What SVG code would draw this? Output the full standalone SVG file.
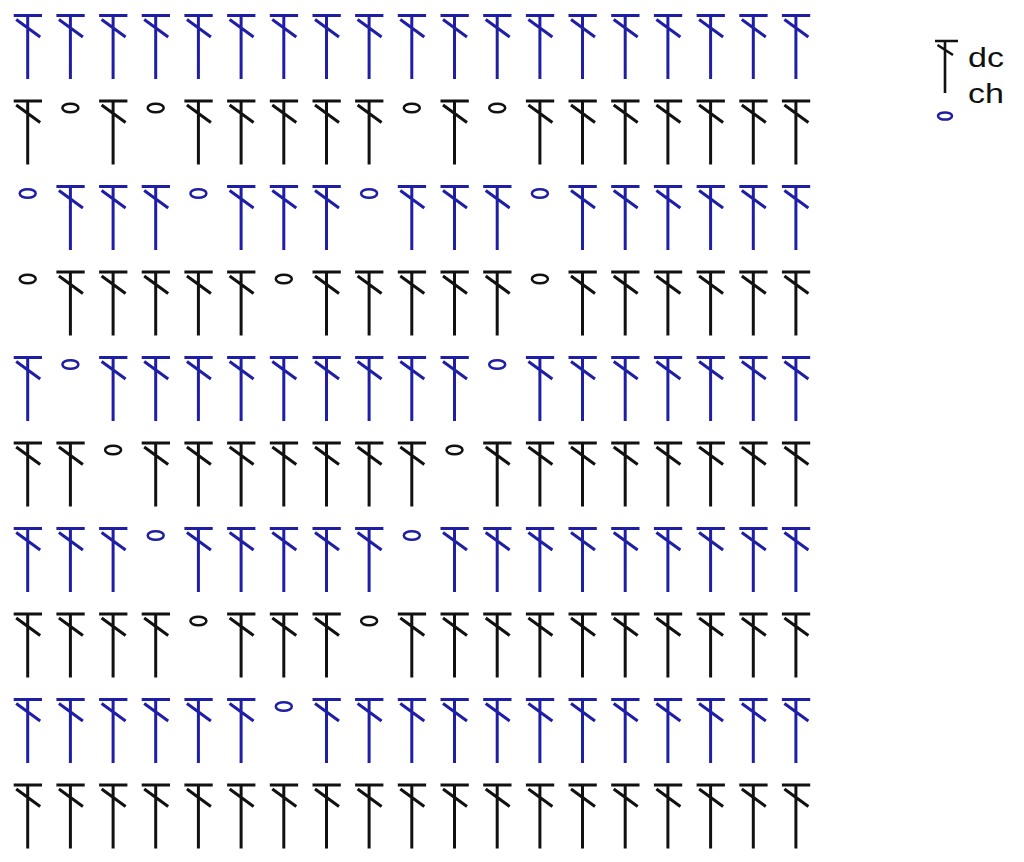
<svg xmlns="http://www.w3.org/2000/svg" xmlns:xlink="http://www.w3.org/1999/xlink" width="1024" height="862" viewBox="0 0 1024 862">
<style>
.b{stroke:#1f1fa6;color:#1f1fa6}
.k{stroke:#111111;color:#111111}
.lbl{font-family:"Liberation Sans",Arial,sans-serif;font-size:27px;fill:#111111;stroke:none}
</style>
<defs>
<g id="dc" fill="none" stroke-width="3">
<path d="M-14 0H14.3M0 0V63.5M-11.5 4L12.5 21.5"/>
</g>
<ellipse id="ch" cx="0" cy="7" rx="8" ry="4.3" fill="none" stroke-width="2.5"/>
</defs>
<rect width="1024" height="862" fill="#ffffff"/>
<g id="connectors"/>
<!-- Row 1 -->
<g id="r1c1" class="b" transform="translate(27.7,15.5)"><use href="#dc"/></g>
<g id="r1c2" class="b" transform="translate(70.4,15.5)"><use href="#dc"/></g>
<g id="r1c3" class="b" transform="translate(113.1,15.5)"><use href="#dc"/></g>
<g id="r1c4" class="b" transform="translate(155.7,15.5)"><use href="#dc"/></g>
<g id="r1c5" class="b" transform="translate(198.4,15.5)"><use href="#dc"/></g>
<g id="r1c6" class="b" transform="translate(241.1,15.5)"><use href="#dc"/></g>
<g id="r1c7" class="b" transform="translate(283.8,15.5)"><use href="#dc"/></g>
<g id="r1c8" class="b" transform="translate(326.5,15.5)"><use href="#dc"/></g>
<g id="r1c9" class="b" transform="translate(369.1,15.5)"><use href="#dc"/></g>
<g id="r1c10" class="b" transform="translate(411.8,15.5)"><use href="#dc"/></g>
<g id="r1c11" class="b" transform="translate(454.5,15.5)"><use href="#dc"/></g>
<g id="r1c12" class="b" transform="translate(497.2,15.5)"><use href="#dc"/></g>
<g id="r1c13" class="b" transform="translate(539.9,15.5)"><use href="#dc"/></g>
<g id="r1c14" class="b" transform="translate(582.5,15.5)"><use href="#dc"/></g>
<g id="r1c15" class="b" transform="translate(625.2,15.5)"><use href="#dc"/></g>
<g id="r1c16" class="b" transform="translate(667.9,15.5)"><use href="#dc"/></g>
<g id="r1c17" class="b" transform="translate(710.6,15.5)"><use href="#dc"/></g>
<g id="r1c18" class="b" transform="translate(753.3,15.5)"><use href="#dc"/></g>
<g id="r1c19" class="b" transform="translate(795.9,15.5)"><use href="#dc"/></g>
<!-- Row 2 -->
<g id="r2c1" class="k" transform="translate(27.7,101)"><use href="#dc"/></g>
<g id="r2c2" class="k" transform="translate(70.4,101)"><use href="#ch"/></g>
<g id="r2c3" class="k" transform="translate(113.1,101)"><use href="#dc"/></g>
<g id="r2c4" class="k" transform="translate(155.7,101)"><use href="#ch"/></g>
<g id="r2c5" class="k" transform="translate(198.4,101)"><use href="#dc"/></g>
<g id="r2c6" class="k" transform="translate(241.1,101)"><use href="#dc"/></g>
<g id="r2c7" class="k" transform="translate(283.8,101)"><use href="#dc"/></g>
<g id="r2c8" class="k" transform="translate(326.5,101)"><use href="#dc"/></g>
<g id="r2c9" class="k" transform="translate(369.1,101)"><use href="#dc"/></g>
<g id="r2c10" class="k" transform="translate(411.8,101)"><use href="#ch"/></g>
<g id="r2c11" class="k" transform="translate(454.5,101)"><use href="#dc"/></g>
<g id="r2c12" class="k" transform="translate(497.2,101)"><use href="#ch"/></g>
<g id="r2c13" class="k" transform="translate(539.9,101)"><use href="#dc"/></g>
<g id="r2c14" class="k" transform="translate(582.5,101)"><use href="#dc"/></g>
<g id="r2c15" class="k" transform="translate(625.2,101)"><use href="#dc"/></g>
<g id="r2c16" class="k" transform="translate(667.9,101)"><use href="#dc"/></g>
<g id="r2c17" class="k" transform="translate(710.6,101)"><use href="#dc"/></g>
<g id="r2c18" class="k" transform="translate(753.3,101)"><use href="#dc"/></g>
<g id="r2c19" class="k" transform="translate(795.9,101)"><use href="#dc"/></g>
<!-- Row 3 -->
<g id="r3c1" class="b" transform="translate(27.7,186.5)"><use href="#ch"/></g>
<g id="r3c2" class="b" transform="translate(70.4,186.5)"><use href="#dc"/></g>
<g id="r3c3" class="b" transform="translate(113.1,186.5)"><use href="#dc"/></g>
<g id="r3c4" class="b" transform="translate(155.7,186.5)"><use href="#dc"/></g>
<g id="r3c5" class="b" transform="translate(198.4,186.5)"><use href="#ch"/></g>
<g id="r3c6" class="b" transform="translate(241.1,186.5)"><use href="#dc"/></g>
<g id="r3c7" class="b" transform="translate(283.8,186.5)"><use href="#dc"/></g>
<g id="r3c8" class="b" transform="translate(326.5,186.5)"><use href="#dc"/></g>
<g id="r3c9" class="b" transform="translate(369.1,186.5)"><use href="#ch"/></g>
<g id="r3c10" class="b" transform="translate(411.8,186.5)"><use href="#dc"/></g>
<g id="r3c11" class="b" transform="translate(454.5,186.5)"><use href="#dc"/></g>
<g id="r3c12" class="b" transform="translate(497.2,186.5)"><use href="#dc"/></g>
<g id="r3c13" class="b" transform="translate(539.9,186.5)"><use href="#ch"/></g>
<g id="r3c14" class="b" transform="translate(582.5,186.5)"><use href="#dc"/></g>
<g id="r3c15" class="b" transform="translate(625.2,186.5)"><use href="#dc"/></g>
<g id="r3c16" class="b" transform="translate(667.9,186.5)"><use href="#dc"/></g>
<g id="r3c17" class="b" transform="translate(710.6,186.5)"><use href="#dc"/></g>
<g id="r3c18" class="b" transform="translate(753.3,186.5)"><use href="#dc"/></g>
<g id="r3c19" class="b" transform="translate(795.9,186.5)"><use href="#dc"/></g>
<!-- Row 4 -->
<g id="r4c1" class="k" transform="translate(27.7,272)"><use href="#ch"/></g>
<g id="r4c2" class="k" transform="translate(70.4,272)"><use href="#dc"/></g>
<g id="r4c3" class="k" transform="translate(113.1,272)"><use href="#dc"/></g>
<g id="r4c4" class="k" transform="translate(155.7,272)"><use href="#dc"/></g>
<g id="r4c5" class="k" transform="translate(198.4,272)"><use href="#dc"/></g>
<g id="r4c6" class="k" transform="translate(241.1,272)"><use href="#dc"/></g>
<g id="r4c7" class="k" transform="translate(283.8,272)"><use href="#ch"/></g>
<g id="r4c8" class="k" transform="translate(326.5,272)"><use href="#dc"/></g>
<g id="r4c9" class="k" transform="translate(369.1,272)"><use href="#dc"/></g>
<g id="r4c10" class="k" transform="translate(411.8,272)"><use href="#dc"/></g>
<g id="r4c11" class="k" transform="translate(454.5,272)"><use href="#dc"/></g>
<g id="r4c12" class="k" transform="translate(497.2,272)"><use href="#dc"/></g>
<g id="r4c13" class="k" transform="translate(539.9,272)"><use href="#ch"/></g>
<g id="r4c14" class="k" transform="translate(582.5,272)"><use href="#dc"/></g>
<g id="r4c15" class="k" transform="translate(625.2,272)"><use href="#dc"/></g>
<g id="r4c16" class="k" transform="translate(667.9,272)"><use href="#dc"/></g>
<g id="r4c17" class="k" transform="translate(710.6,272)"><use href="#dc"/></g>
<g id="r4c18" class="k" transform="translate(753.3,272)"><use href="#dc"/></g>
<g id="r4c19" class="k" transform="translate(795.9,272)"><use href="#dc"/></g>
<!-- Row 5 -->
<g id="r5c1" class="b" transform="translate(27.7,357.5)"><use href="#dc"/></g>
<g id="r5c2" class="b" transform="translate(70.4,357.5)"><use href="#ch"/></g>
<g id="r5c3" class="b" transform="translate(113.1,357.5)"><use href="#dc"/></g>
<g id="r5c4" class="b" transform="translate(155.7,357.5)"><use href="#dc"/></g>
<g id="r5c5" class="b" transform="translate(198.4,357.5)"><use href="#dc"/></g>
<g id="r5c6" class="b" transform="translate(241.1,357.5)"><use href="#dc"/></g>
<g id="r5c7" class="b" transform="translate(283.8,357.5)"><use href="#dc"/></g>
<g id="r5c8" class="b" transform="translate(326.5,357.5)"><use href="#dc"/></g>
<g id="r5c9" class="b" transform="translate(369.1,357.5)"><use href="#dc"/></g>
<g id="r5c10" class="b" transform="translate(411.8,357.5)"><use href="#dc"/></g>
<g id="r5c11" class="b" transform="translate(454.5,357.5)"><use href="#dc"/></g>
<g id="r5c12" class="b" transform="translate(497.2,357.5)"><use href="#ch"/></g>
<g id="r5c13" class="b" transform="translate(539.9,357.5)"><use href="#dc"/></g>
<g id="r5c14" class="b" transform="translate(582.5,357.5)"><use href="#dc"/></g>
<g id="r5c15" class="b" transform="translate(625.2,357.5)"><use href="#dc"/></g>
<g id="r5c16" class="b" transform="translate(667.9,357.5)"><use href="#dc"/></g>
<g id="r5c17" class="b" transform="translate(710.6,357.5)"><use href="#dc"/></g>
<g id="r5c18" class="b" transform="translate(753.3,357.5)"><use href="#dc"/></g>
<g id="r5c19" class="b" transform="translate(795.9,357.5)"><use href="#dc"/></g>
<!-- Row 6 -->
<g id="r6c1" class="k" transform="translate(27.7,443)"><use href="#dc"/></g>
<g id="r6c2" class="k" transform="translate(70.4,443)"><use href="#dc"/></g>
<g id="r6c3" class="k" transform="translate(113.1,443)"><use href="#ch"/></g>
<g id="r6c4" class="k" transform="translate(155.7,443)"><use href="#dc"/></g>
<g id="r6c5" class="k" transform="translate(198.4,443)"><use href="#dc"/></g>
<g id="r6c6" class="k" transform="translate(241.1,443)"><use href="#dc"/></g>
<g id="r6c7" class="k" transform="translate(283.8,443)"><use href="#dc"/></g>
<g id="r6c8" class="k" transform="translate(326.5,443)"><use href="#dc"/></g>
<g id="r6c9" class="k" transform="translate(369.1,443)"><use href="#dc"/></g>
<g id="r6c10" class="k" transform="translate(411.8,443)"><use href="#dc"/></g>
<g id="r6c11" class="k" transform="translate(454.5,443)"><use href="#ch"/></g>
<g id="r6c12" class="k" transform="translate(497.2,443)"><use href="#dc"/></g>
<g id="r6c13" class="k" transform="translate(539.9,443)"><use href="#dc"/></g>
<g id="r6c14" class="k" transform="translate(582.5,443)"><use href="#dc"/></g>
<g id="r6c15" class="k" transform="translate(625.2,443)"><use href="#dc"/></g>
<g id="r6c16" class="k" transform="translate(667.9,443)"><use href="#dc"/></g>
<g id="r6c17" class="k" transform="translate(710.6,443)"><use href="#dc"/></g>
<g id="r6c18" class="k" transform="translate(753.3,443)"><use href="#dc"/></g>
<g id="r6c19" class="k" transform="translate(795.9,443)"><use href="#dc"/></g>
<!-- Row 7 -->
<g id="r7c1" class="b" transform="translate(27.7,528.5)"><use href="#dc"/></g>
<g id="r7c2" class="b" transform="translate(70.4,528.5)"><use href="#dc"/></g>
<g id="r7c3" class="b" transform="translate(113.1,528.5)"><use href="#dc"/></g>
<g id="r7c4" class="b" transform="translate(155.7,528.5)"><use href="#ch"/></g>
<g id="r7c5" class="b" transform="translate(198.4,528.5)"><use href="#dc"/></g>
<g id="r7c6" class="b" transform="translate(241.1,528.5)"><use href="#dc"/></g>
<g id="r7c7" class="b" transform="translate(283.8,528.5)"><use href="#dc"/></g>
<g id="r7c8" class="b" transform="translate(326.5,528.5)"><use href="#dc"/></g>
<g id="r7c9" class="b" transform="translate(369.1,528.5)"><use href="#dc"/></g>
<g id="r7c10" class="b" transform="translate(411.8,528.5)"><use href="#ch"/></g>
<g id="r7c11" class="b" transform="translate(454.5,528.5)"><use href="#dc"/></g>
<g id="r7c12" class="b" transform="translate(497.2,528.5)"><use href="#dc"/></g>
<g id="r7c13" class="b" transform="translate(539.9,528.5)"><use href="#dc"/></g>
<g id="r7c14" class="b" transform="translate(582.5,528.5)"><use href="#dc"/></g>
<g id="r7c15" class="b" transform="translate(625.2,528.5)"><use href="#dc"/></g>
<g id="r7c16" class="b" transform="translate(667.9,528.5)"><use href="#dc"/></g>
<g id="r7c17" class="b" transform="translate(710.6,528.5)"><use href="#dc"/></g>
<g id="r7c18" class="b" transform="translate(753.3,528.5)"><use href="#dc"/></g>
<g id="r7c19" class="b" transform="translate(795.9,528.5)"><use href="#dc"/></g>
<!-- Row 8 -->
<g id="r8c1" class="k" transform="translate(27.7,614)"><use href="#dc"/></g>
<g id="r8c2" class="k" transform="translate(70.4,614)"><use href="#dc"/></g>
<g id="r8c3" class="k" transform="translate(113.1,614)"><use href="#dc"/></g>
<g id="r8c4" class="k" transform="translate(155.7,614)"><use href="#dc"/></g>
<g id="r8c5" class="k" transform="translate(198.4,614)"><use href="#ch"/></g>
<g id="r8c6" class="k" transform="translate(241.1,614)"><use href="#dc"/></g>
<g id="r8c7" class="k" transform="translate(283.8,614)"><use href="#dc"/></g>
<g id="r8c8" class="k" transform="translate(326.5,614)"><use href="#dc"/></g>
<g id="r8c9" class="k" transform="translate(369.1,614)"><use href="#ch"/></g>
<g id="r8c10" class="k" transform="translate(411.8,614)"><use href="#dc"/></g>
<g id="r8c11" class="k" transform="translate(454.5,614)"><use href="#dc"/></g>
<g id="r8c12" class="k" transform="translate(497.2,614)"><use href="#dc"/></g>
<g id="r8c13" class="k" transform="translate(539.9,614)"><use href="#dc"/></g>
<g id="r8c14" class="k" transform="translate(582.5,614)"><use href="#dc"/></g>
<g id="r8c15" class="k" transform="translate(625.2,614)"><use href="#dc"/></g>
<g id="r8c16" class="k" transform="translate(667.9,614)"><use href="#dc"/></g>
<g id="r8c17" class="k" transform="translate(710.6,614)"><use href="#dc"/></g>
<g id="r8c18" class="k" transform="translate(753.3,614)"><use href="#dc"/></g>
<g id="r8c19" class="k" transform="translate(795.9,614)"><use href="#dc"/></g>
<!-- Row 9 -->
<g id="r9c1" class="b" transform="translate(27.7,699.5)"><use href="#dc"/></g>
<g id="r9c2" class="b" transform="translate(70.4,699.5)"><use href="#dc"/></g>
<g id="r9c3" class="b" transform="translate(113.1,699.5)"><use href="#dc"/></g>
<g id="r9c4" class="b" transform="translate(155.7,699.5)"><use href="#dc"/></g>
<g id="r9c5" class="b" transform="translate(198.4,699.5)"><use href="#dc"/></g>
<g id="r9c6" class="b" transform="translate(241.1,699.5)"><use href="#dc"/></g>
<g id="r9c7" class="b" transform="translate(283.8,699.5)"><use href="#ch"/></g>
<g id="r9c8" class="b" transform="translate(326.5,699.5)"><use href="#dc"/></g>
<g id="r9c9" class="b" transform="translate(369.1,699.5)"><use href="#dc"/></g>
<g id="r9c10" class="b" transform="translate(411.8,699.5)"><use href="#dc"/></g>
<g id="r9c11" class="b" transform="translate(454.5,699.5)"><use href="#dc"/></g>
<g id="r9c12" class="b" transform="translate(497.2,699.5)"><use href="#dc"/></g>
<g id="r9c13" class="b" transform="translate(539.9,699.5)"><use href="#dc"/></g>
<g id="r9c14" class="b" transform="translate(582.5,699.5)"><use href="#dc"/></g>
<g id="r9c15" class="b" transform="translate(625.2,699.5)"><use href="#dc"/></g>
<g id="r9c16" class="b" transform="translate(667.9,699.5)"><use href="#dc"/></g>
<g id="r9c17" class="b" transform="translate(710.6,699.5)"><use href="#dc"/></g>
<g id="r9c18" class="b" transform="translate(753.3,699.5)"><use href="#dc"/></g>
<g id="r9c19" class="b" transform="translate(795.9,699.5)"><use href="#dc"/></g>
<!-- Row 10 -->
<g id="r10c1" class="k" transform="translate(27.7,785)"><use href="#dc"/></g>
<g id="r10c2" class="k" transform="translate(70.4,785)"><use href="#dc"/></g>
<g id="r10c3" class="k" transform="translate(113.1,785)"><use href="#dc"/></g>
<g id="r10c4" class="k" transform="translate(155.7,785)"><use href="#dc"/></g>
<g id="r10c5" class="k" transform="translate(198.4,785)"><use href="#dc"/></g>
<g id="r10c6" class="k" transform="translate(241.1,785)"><use href="#dc"/></g>
<g id="r10c7" class="k" transform="translate(283.8,785)"><use href="#dc"/></g>
<g id="r10c8" class="k" transform="translate(326.5,785)"><use href="#dc"/></g>
<g id="r10c9" class="k" transform="translate(369.1,785)"><use href="#dc"/></g>
<g id="r10c10" class="k" transform="translate(411.8,785)"><use href="#dc"/></g>
<g id="r10c11" class="k" transform="translate(454.5,785)"><use href="#dc"/></g>
<g id="r10c12" class="k" transform="translate(497.2,785)"><use href="#dc"/></g>
<g id="r10c13" class="k" transform="translate(539.9,785)"><use href="#dc"/></g>
<g id="r10c14" class="k" transform="translate(582.5,785)"><use href="#dc"/></g>
<g id="r10c15" class="k" transform="translate(625.2,785)"><use href="#dc"/></g>
<g id="r10c16" class="k" transform="translate(667.9,785)"><use href="#dc"/></g>
<g id="r10c17" class="k" transform="translate(710.6,785)"><use href="#dc"/></g>
<g id="r10c18" class="k" transform="translate(753.3,785)"><use href="#dc"/></g>
<g id="r10c19" class="k" transform="translate(795.9,785)"><use href="#dc"/></g>
<!-- Legend -->
<g id="legend-dc">
<path class="k" d="M935 41H958M945 41V93M937.5 45L953 55" fill="none" stroke-width="2.6"/>
<text class="lbl" x="968" y="67" textLength="36" lengthAdjust="spacingAndGlyphs">dc</text>
</g>
<g id="legend-ch">
<ellipse class="b" cx="945" cy="116" rx="7" ry="3.6" fill="none" stroke-width="2.5"/>
<text class="lbl" x="968" y="103" textLength="36" lengthAdjust="spacingAndGlyphs">ch</text>
</g>
</svg>
